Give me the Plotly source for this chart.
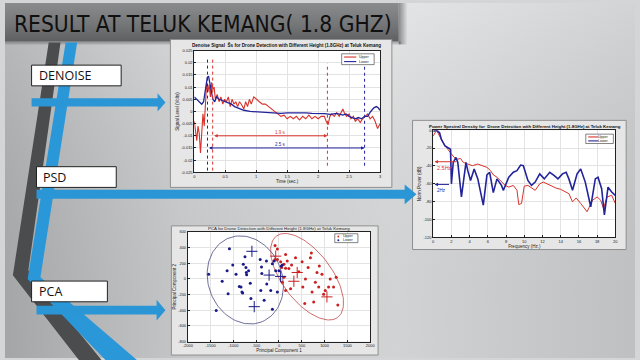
import base64
import numpy as np
import plotly.graph_objects as go

# ------------------------------------------------------------------ data
# Denoise signal (Volts) vs time (sec.)
den_t_upper = [0.00, 0.02, 0.04, 0.06, 0.08, 0.10, 0.12, 0.14, 0.16, 0.18, 0.20, 0.22, 0.24, 0.26,
               0.28, 0.30, 0.32, 0.34, 0.37, 0.40, 0.43, 0.46, 0.49, 0.52, 0.55, 0.58, 0.61, 0.64,
               0.67, 0.70, 0.73, 0.76, 0.80, 0.83, 0.86, 0.89, 0.92, 0.96, 1.00, 1.05, 1.10, 1.15,
               1.20, 1.25, 1.30, 1.35, 1.40, 1.45, 1.50, 1.55, 1.60, 1.65, 1.70, 1.75, 1.80, 1.85,
               1.90, 1.95, 2.00, 2.05, 2.10, 2.13, 2.16, 2.19, 2.22, 2.26, 2.30, 2.34, 2.38, 2.40,
               2.43, 2.46, 2.50, 2.53, 2.57, 2.60, 2.64, 2.68, 2.72, 2.76, 2.80, 2.84, 2.88, 2.92,
               2.96, 3.00]
den_v_upper = [-0.004, -0.009, -0.012, -0.006, -0.009, -0.017, -0.010, -0.001, -0.006, 0.002, 0.012,
               0.008, 0.011, 0.006, 0.012, 0.009, 0.010, 0.005, 0.007, 0.004, 0.006, 0.003, 0.005,
               0.004, 0.006, 0.002, 0.005, 0.003, 0.004, 0.002, 0.004, 0.003, 0.001, 0.004, 0.002,
               0.005, 0.003, 0.006, 0.005, 0.004, 0.003, 0.003, 0.002, 0.001, 0.000, -0.001, -0.002,
               -0.0015, -0.003, -0.002, -0.003, -0.002, -0.0035, -0.002, -0.003, -0.0015, -0.003,
               -0.002, -0.003, -0.002, -0.002, -0.004, -0.0055, -0.002, -0.001, -0.002, -0.0005,
               -0.002, 0.000, 0.001, -0.001, -0.002, -0.001, -0.003, -0.002, -0.004, -0.003, -0.0045,
               -0.003, -0.002, -0.001, -0.003, -0.002, -0.004, -0.007, -0.005]
den_t_lower = [0.00, 0.04, 0.08, 0.12, 0.15, 0.18, 0.21, 0.23, 0.25, 0.27, 0.30, 0.33, 0.36, 0.40,
               0.45, 0.50, 0.55, 0.60, 0.65, 0.70, 0.75, 0.80, 0.90, 1.00, 1.10, 1.20, 1.30, 1.40,
               1.50, 1.60, 1.70, 1.80, 1.90, 2.00, 2.10, 2.20, 2.30, 2.40, 2.45, 2.50, 2.55, 2.60,
               2.65, 2.70, 2.75, 2.80, 2.85, 2.90, 2.94, 2.97, 3.00]
den_v_lower = [0.006, 0.005, 0.004, 0.003, 0.004, 0.010, 0.014, 0.0145, 0.012, 0.008, 0.005, 0.004,
               0.006, 0.005, 0.0045, 0.004, 0.0035, 0.003, 0.002, 0.0015, 0.001, 0.0005, 0.0000,
               -0.0002, -0.0004, -0.0005, -0.0008, -0.0008, -0.0006, -0.0005, -0.0007, -0.0006,
               -0.0008, -0.0007, -0.0009, -0.0012, -0.0008, -0.0015, -0.0010, -0.0020, -0.0025,
               -0.0030, -0.0025, -0.0030, -0.0020, -0.0020, 0.0000, 0.0015, 0.0020, 0.0015, 0.0005]
den_marks_upper = [0.297, 2.15]      # dotted markers, Upper
den_marks_lower = [0.213, 2.75]      # dotted markers, Lower
den_span_labels = ["1.9 s", "2.5 s"]

# Power spectral density (dB) vs frequency (Hz.)
psd_f_upper = [0.0, 0.36, 0.8, 1.2, 1.6, 2.0, 2.3, 2.7, 3.0, 3.3, 3.8, 4.3, 4.9, 5.4, 5.9, 6.3, 6.6,
               7.0, 7.4, 7.9, 8.3, 8.8, 9.2, 9.4, 9.7, 10.0, 10.4, 10.8, 11.2, 11.7, 12.1, 12.5, 13.0,
               13.5, 14.0, 14.5, 14.9, 15.3, 15.7, 16.2, 16.9, 17.5, 18.0, 18.4, 18.7, 19.1, 19.6, 20.0]
psd_db_upper = [-6.6, 0.0, -8.5, -15.8, -21.3, -26.9, -30.5, -32.4, -31.6, -36.0, -37.9, -39.7, -37.9,
                -39.7, -41.6, -45.3, -50.0, -52.6, -56.3, -61.8, -63.7, -61.8, -67.3, -83.2, -82.0,
                -62.6, -61.8, -64.8, -67.3, -60.0, -58.1, -60.0, -62.6, -64.8, -66.2, -68.4, -71.0,
                -80.2, -75.8, -82.0, -91.3, -78.4, -74.7, -78.4, -87.6, -74.7, -72.9, -82.0]
psd_f_lower = [0.0, 0.36, 0.7, 0.9, 1.3, 1.6, 1.9, 2.0, 2.2, 2.5, 2.7, 3.1, 3.6, 3.8, 4.1, 4.5, 4.9,
               5.5, 5.9, 6.2, 6.6, 7.0, 7.5, 7.7, 8.3, 8.8, 9.2, 9.6, 9.9, 10.4, 10.8, 11.2, 11.7, 12.2,
               12.8, 13.3, 13.7, 14.2, 14.6, 14.9, 15.3, 15.8, 16.2, 16.7, 17.3, 17.8, 18.1, 18.5,
               18.8, 19.2, 19.6, 20.0]
psd_db_lower = [-1.1, 0.0, -2.9, -10.3, -17.7, -19.5, -21.3, -60.0, -36.0, -30.5, -36.0, -74.7, -36.0,
                -45.3, -56.3, -43.4, -54.5, -83.9, -50.0, -47.1, -69.9, -54.5, -61.8, -67.3, -52.6,
                -47.1, -45.3, -39.0, -39.7, -56.3, -61.8, -58.1, -48.9, -54.5, -47.1, -50.8, -54.5,
                -48.9, -47.1, -54.5, -67.3, -48.9, -43.4, -58.1, -85.7, -54.5, -52.6, -65.5, -94.9,
                -63.7, -69.2, -72.9]
psd_bw_upper = 2.5   # Hz
psd_bw_lower = 2.0   # Hz
psd_bw_level_upper = -35.3
psd_bw_level_lower = -60.7

# PCA scores
pca_upper_x = [-87, -36, -87, -36, 36, 58, 109, 145, 145, 181, 217, 275, 362, 435, 507, 522, 565, 580,
               638, 688, 710, 725, 761, 797, 833, 870, 884, 942, 978, 1014, 1087, 1123, 1196, 1254,
               1290, 109, 145, 254, 72]
pca_upper_y = [429, 383, 250, 250, 221, 146, 188, 313, 138, 229, 133, 179, 271, 92, 221, -104, -313, 0,
               146, 271, 333, -167, -296, -42, 83, -104, 167, 62, -196, -146, -104, 0, -104, 21, -333,
               21, -146, -125, -42]
pca_lower_x = [-1543, -1377, -1246, -1138, -1116, -1087, -1014, -942, -870, -833, -812, -797, -783, -746,
               -725, -717, -710, -667, -630, -616, -413, -399, -384, -377, -326, -275, -268, -181, -145,
               -145, -72, -36, 0, 51, 72, -109]
pca_lower_y = [62, -404, -29, 104, -188, 388, 179, 62, -96, -104, -167, -179, 188, 283, 146, 83, 54, 104,
               -54, -250, 250, -146, 154, 71, -271, 229, -63, -146, -388, 196, 104, -167, 104, 167, 179,
               229]
pca_upper_big_x = [-72, 326, 399, 1051]
pca_upper_big_y = [292, -29, 83, -229]
pca_lower_big_x = [-594, -543, -217, 36]
pca_lower_big_y = [354, -354, 50, 33]
# confidence ellipses: centre, major half-axis vector, minor half-axis vector
ell_upper = dict(center=(616, 29), major=(670, -521), minor=(-437, -186))
ell_lower = dict(center=(-739, -12), major=(342, -540), minor=(-763, -160))

series_names = ["Upper", "Lower"]

# ------------------------------------------------------------------ helpers
W, H = 640, 360
RED = "#d8322a"
NAVY = "#23239a"
CF = "Liberation Sans, Arial, sans-serif"


def px(x):
    return x / W


def py(y):
    return 1 - y / H


def path(points):
    return "M " + " L ".join(f"{px(x):.5f},{py(y):.5f}" for x, y in points) + " Z"


svg = f"""<svg xmlns='http://www.w3.org/2000/svg' width='{W}' height='{H}' viewBox='0 0 {W} {H}' preserveAspectRatio='none'>
<defs>
<linearGradient id='bg' x1='0' y1='0' x2='1' y2='0'>
<stop offset='0' stop-color='#aeb0b2'/><stop offset='0.28' stop-color='#d1d2d4'/>
<stop offset='0.62' stop-color='#dfe0e1'/><stop offset='1' stop-color='#cbcccd'/></linearGradient>
<linearGradient id='vg' x1='0' y1='0' x2='0' y2='1'>
<stop offset='0' stop-color='#ffffff' stop-opacity='0.15'/><stop offset='1' stop-color='#000000' stop-opacity='0.06'/></linearGradient>
<linearGradient id='tb' x1='0' y1='0' x2='0' y2='1'>
<stop offset='0' stop-color='#8b8c8e'/><stop offset='0.6' stop-color='#737476'/><stop offset='1' stop-color='#5e5f61'/></linearGradient>
<linearGradient id='sh' x1='0' y1='0' x2='1' y2='0'>
<stop offset='0' stop-color='#404040' stop-opacity='0.55'/><stop offset='1' stop-color='#404040' stop-opacity='0'/></linearGradient>
<linearGradient id='sh2' x1='0' y1='0' x2='0' y2='1'>
<stop offset='0' stop-color='#404040' stop-opacity='0.45'/><stop offset='1' stop-color='#404040' stop-opacity='0'/></linearGradient>
</defs>
<rect width='{W}' height='{H}' fill='url(#bg)'/>
<rect width='{W}' height='{H}' fill='url(#vg)'/>
<rect x='400' y='0' width='9' height='42' fill='url(#sh)'/>
<rect x='0' y='39' width='402' height='4' fill='url(#sh2)'/>
<rect x='0' y='0' width='400' height='39' fill='url(#tb)'/>
</svg>"""
bg_src = "data:image/svg+xml;base64," + base64.b64encode(svg.encode()).decode()

fig = go.Figure()

# ---------------- Denoise traces
fig.add_trace(go.Scatter(x=den_t_upper, y=den_v_upper, mode="lines", name=series_names[0],
                         line=dict(color=RED, width=1.1), xaxis="x", yaxis="y", showlegend=False))
fig.add_trace(go.Scatter(x=den_t_lower, y=den_v_lower, mode="lines", name=series_names[1],
                         line=dict(color=NAVY, width=1.3), xaxis="x", yaxis="y", showlegend=False))

# ---------------- PSD traces
fig.add_trace(go.Scatter(x=psd_f_upper, y=psd_db_upper, mode="lines", name=series_names[0],
                         line=dict(color=RED, width=1.0), xaxis="x2", yaxis="y2", showlegend=False))
fig.add_trace(go.Scatter(x=psd_f_lower, y=psd_db_lower, mode="lines", name=series_names[1],
                         line=dict(color=NAVY, width=1.6), xaxis="x2", yaxis="y2", showlegend=False))

# ---------------- PCA traces
phi = np.linspace(0, 2 * np.pi, 121)
for ell, col in ((ell_upper, "#c04848"), (ell_lower, "#4a4a80")):
    cx, cy = ell["center"]
    mx, my = ell["major"]
    nx, ny = ell["minor"]
    fig.add_trace(go.Scatter(x=cx + np.cos(phi) * mx + np.sin(phi) * nx,
                             y=cy + np.cos(phi) * my + np.sin(phi) * ny,
                             mode="lines", line=dict(color=col, width=0.8), showlegend=False,
                             hoverinfo="skip", xaxis="x3", yaxis="y3"))
fig.add_trace(go.Scatter(x=pca_upper_x, y=pca_upper_y, mode="markers", name=series_names[0],
                         marker=dict(color="#cc2020", size=3, symbol="circle"),
                         xaxis="x3", yaxis="y3", showlegend=False))
fig.add_trace(go.Scatter(x=pca_lower_x, y=pca_lower_y, mode="markers", name=series_names[1],
                         marker=dict(color="#1a1a88", size=3, symbol="circle"),
                         xaxis="x3", yaxis="y3", showlegend=False))
fig.add_trace(go.Scatter(x=pca_upper_big_x, y=pca_upper_big_y, mode="markers", showlegend=False,
                         marker=dict(color="#cc2020", size=8, symbol="cross-thin-open",
                                     line=dict(color="#cc2020", width=1)),
                         xaxis="x3", yaxis="y3"))
fig.add_trace(go.Scatter(x=pca_lower_big_x, y=pca_lower_big_y, mode="markers", showlegend=False,
                         marker=dict(color="#1a1a88", size=8, symbol="cross-thin-open",
                                     line=dict(color="#1a1a88", width=1)),
                         xaxis="x3", yaxis="y3"))


# ------------------------------------------------------------------ axes
def ax(domain, rng, tickvals, ticktext, title, anchor):
    return dict(domain=domain, range=rng, tickvals=tickvals, ticktext=ticktext, anchor=anchor,
                showline=True, linecolor="#222", linewidth=0.8, mirror=True,
                ticks="inside", ticklen=2, tickcolor="#222", tickwidth=0.6,
                showgrid=True, gridcolor="#e3e3e3", gridwidth=0.6, zeroline=False,
                tickfont=dict(size=4, color="#222", family=CF),
                title=dict(text=title, standoff=1, font=dict(size=4.5, color="#222", family=CF)))


den_xt = [0, 0.5, 1, 1.5, 2, 2.5, 3]
den_yt = [-0.025, -0.02, -0.015, -0.01, -0.005, 0, 0.005, 0.01, 0.015, 0.02, 0.025]
psd_xt = list(range(0, 21, 2))
psd_yt = list(range(-120, 1, 20))
pca_xt = list(range(-2000, 2001, 500))
pca_yt = list(range(-800, 601, 200))

fig.update_layout(
    xaxis=ax([px(192.3), px(381)], [0, 3], den_xt, [f"{v:g}" for v in den_xt], "Time (sec.)", "y"),
    yaxis=ax([py(171.7), py(48.3)], [-0.025, 0.025], den_yt, [f"{v:g}" for v in den_yt],
             "Signal Level (Volts)", "x"),
    xaxis2=ax([px(435), px(620)], [0, 20], psd_xt, [str(v) for v in psd_xt], "Frequency (Hz.)", "y2"),
    yaxis2=ax([py(237.7), py(129)], [-120, 0], psd_yt, [str(v) for v in psd_yt], "Norm Power (dB)", "x2"),
    xaxis3=ax([px(185.7), px(371)], [-2000, 2000], pca_xt, [str(v) for v in pca_xt],
              "Principal Component 1", "y3"),
    yaxis3=ax([py(343.3), py(232.3)], [-800, 600], pca_yt, [str(v) for v in pca_yt],
              "Principal Component 2", "x3"),
)

# ------------------------------------------------------------------ shapes
shapes = []
ann = []
# chart panels
for x0, y0, x1, y1 in ((168, 37, 393, 187), (414, 119, 631, 250), (169, 226, 379, 357)):
    shapes.append(dict(type="rect", xref="paper", yref="paper", x0=px(x0), x1=px(x1), y0=py(y1),
                       y1=py(y0), fillcolor="#e6e6e6", line=dict(color="#8f8f8f", width=1), layer="below"))
# white plot areas
for xr, yr in (("x", "y"), ("x2", "y2"), ("x3", "y3")):
    shapes.append(dict(type="rect", xref=f"{xr} domain", yref=f"{yr} domain", x0=0, x1=1, y0=0, y1=1,
                       fillcolor="white", line=dict(width=0), layer="below"))
# decorative stripes
shapes.append(dict(type="path", xref="paper", yref="paper", layer="below", fillcolor="#4b4c4e",
                   line=dict(width=0),
                   path=path([(44.4, 40), (56.4, 40), (23.7, 271), (98, 362), (75, 362), (8, 276)])))
shapes.append(dict(type="path", xref="paper", yref="paper", layer="below", fillcolor="#2a98d8",
                   line=dict(width=0),
                   path=path([(61.6, 40), (73.3, 40), (36, 278), (134, 362), (102, 362), (23, 280)])))
# blue arrows
ARROW = "#2a96d6"
for (xs, xe, xh, yc, hs, hh) in ((27, 155, 163, 100.8, 4.2, 9.3), (32, 406, 418, 194, 4.5, 10),
                                 (32, 154, 163, 311.5, 4.5, 10.5)):
    shapes.append(dict(type="path", xref="paper", yref="paper", layer="above", fillcolor=ARROW,
                       line=dict(width=0),
                       path=path([(xs, yc - hs), (xe, yc - hs), (xe, yc - hh), (xh, yc), (xe, yc + hh),
                                  (xe, yc + hs), (xs, yc + hs)])))
# label boxes
for x0, y0, x1, y1 in ((27, 63, 118, 84), (32, 166, 113, 187), (27, 282, 104, 303)):
    shapes.append(dict(type="rect", xref="paper", yref="paper", x0=px(x0), x1=px(x1), y0=py(y1),
                       y1=py(y0), fillcolor="white", line=dict(color="#222", width=1), layer="above"))
# denoise dotted markers
for marks, col in ((den_marks_upper, RED), (den_marks_lower, NAVY)):
    for t in marks:
        shapes.append(dict(type="line", xref="x", yref="y", x0=t, x1=t,
                           y0=-0.0243 if t < 1 else -0.0223, y1=0.0218 if t < 1 else 0.0197,
                           line=dict(color=col, width=1, dash="dot")))

# small MATLAB-style legends (drawn as boxes + samples + text)
LEG_FONT = dict(size=3.6, color="#222", family=CF)
for (bx0, by0, bx1, by1, kind) in ((342, 51.5, 375, 62.5, "line"), (590, 133, 618, 142.5, "line"),
                                   (335, 234, 358.5, 243, "marker")):
    shapes.append(dict(type="rect", xref="paper", yref="paper", x0=px(bx0), x1=px(bx1), y0=py(by1),
                       y1=py(by0), fillcolor="white", line=dict(color="#333", width=0.6), layer="above"))
    rows = [by0 + (by1 - by0) * 0.3, by0 + (by1 - by0) * 0.72]
    for name, col, ry in ((series_names[0], RED, rows[0]), (series_names[1], NAVY, rows[1])):
        if kind == "line":
            sx0, sx1 = bx0 + 2.5, bx0 + (bx1 - bx0) * 0.45
            shapes.append(dict(type="line", xref="paper", yref="paper", x0=px(sx0), x1=px(sx1),
                               y0=py(ry), y1=py(ry), line=dict(color=col, width=1.1), layer="above"))
        else:
            sx1 = bx0 + 6
            shapes.append(dict(type="circle", xref="paper", yref="paper", x0=px(bx0 + 2.6),
                               x1=px(bx0 + 4.6), y0=py(ry + 1), y1=py(ry - 1), fillcolor=col,
                               line=dict(width=0), layer="above"))
        ann.append(dict(text=name, xref="paper", yref="paper", x=px(bx1 - 2), y=py(ry), xanchor="right",
                        yanchor="middle", showarrow=False, font=LEG_FONT))

fig.update_layout(shapes=shapes)

# ------------------------------------------------------------------ annotations
ann.append(dict(text="RESULT AT TELUK KEMANG( 1.8 GHZ)", xref="paper", yref="paper", x=px(7), y=py(21),
                xanchor="left", yanchor="middle", showarrow=False,
                font=dict(size=22.6, color="#101010",
                          family="Liberation Sans Narrow, Arial Narrow, DejaVu Sans Condensed, Open Sans")))
for txt, x0, yc in (("DENOISE", 32, 73.5), ("PSD", 37, 176.5), ("PCA", 32, 292.5)):
    ann.append(dict(text=txt, xref="paper", yref="paper", x=px(x0), y=py(yc), xanchor="left",
                    yanchor="middle", showarrow=False,
                    font=dict(size=12.5, color="#111", family="Open Sans, sans-serif")))
# chart titles
ann.append(dict(text="Denoise Signal  Ŝs for Drone Detection with Different Height (1.8GHz) at Teluk Kemang",
                xref="paper", yref="paper", x=px(286), y=py(42), xanchor="center", yanchor="middle",
                showarrow=False, font=dict(size=4.6, color="#111", family=CF, weight="bold")))
ann.append(dict(text="Power Spectral Density for  Drone Detection with Different Height (1.8GHz) at Teluk Kemang",
                xref="paper", yref="paper", x=px(528), y=py(125.5), xanchor="center", yanchor="middle",
                showarrow=False, font=dict(size=4.4, color="#111", family=CF, weight="bold")))
ann.append(dict(text="PCA for Drone Detection with Different Height (1.8GHz) at Teluk Kemang",
                xref="paper", yref="paper", x=px(278), y=py(228.8), xanchor="center", yanchor="middle",
                showarrow=False, font=dict(size=4.4, color="#222", family=CF)))
# denoise span arrows
for (t0, t1), yv, col, lab, ly in ((den_marks_upper, -0.010, RED, den_span_labels[0], -0.0086),
                                   (den_marks_lower, -0.015, NAVY, den_span_labels[1], -0.0134)):
    ann.append(dict(x=t1, y=yv, ax=t0, ay=yv, xref="x", yref="y", axref="x", ayref="y", text="",
                    showarrow=True, arrowhead=2, arrowside="end+start", arrowsize=0.7, arrowwidth=1,
                    arrowcolor=col))
    ann.append(dict(x=1.4, y=ly, xref="x", yref="y", text=lab, showarrow=False,
                    font=dict(size=4.5, color=col, family=CF)))
# PSD bandwidth arrows
for bw, lvl, col, lab in ((psd_bw_upper, psd_bw_level_upper, RED, "2.5Hz"),
                          (psd_bw_lower, psd_bw_level_lower, NAVY, "2Hz")):
    ann.append(dict(x=0.15, y=lvl, ax=bw + (0.2 if bw > 2.2 else -0.1), ay=lvl, xref="x2", yref="y2",
                    axref="x2", ayref="y2", text="", showarrow=True, arrowhead=2, arrowsize=0.7,
                    arrowwidth=1, arrowcolor=col))
    ann.append(dict(x=0.2, y=lvl - 6.5, xref="x2", yref="y2", text=lab, showarrow=False, xanchor="left",
                    font=dict(size=5.5 if bw > 2.2 else 4.5, color=col, family=CF)))
fig.update_layout(annotations=ann)

fig.update_layout(
    width=W, height=H, margin=dict(l=0, r=0, t=0, b=0), autosize=False, showlegend=False,
    paper_bgcolor="#d4d5d7", plot_bgcolor="white", font=dict(family=CF),
    images=[dict(source=bg_src, xref="paper", yref="paper", x=0, y=1, sizex=1, sizey=1,
                 xanchor="left", yanchor="top", sizing="stretch", layer="below")],
)

fig.write_html("out.html")
